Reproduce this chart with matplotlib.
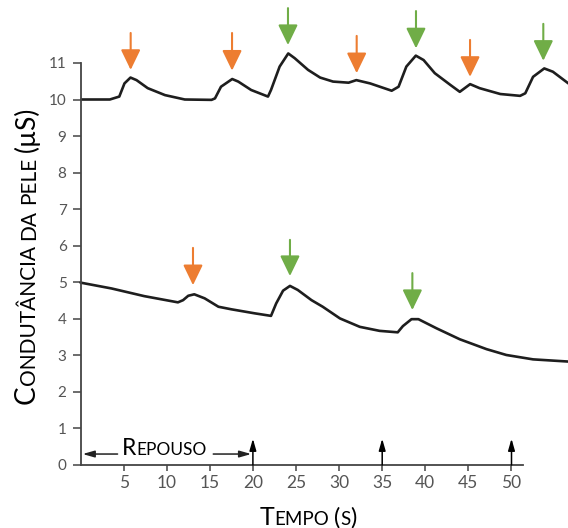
import matplotlib
matplotlib.use("Agg")
import matplotlib.pyplot as plt
from matplotlib.transforms import IdentityTransform

# ---------------- data ----------------
t_top = [0.1, 3.4, 4.5, 5.1, 5.8, 6.5, 7.8, 9.8, 12.1, 15.2, 15.6, 16.3, 17.6, 18.3,
         19.8, 21.75, 22.1, 23.1, 24.1, 24.85, 26.4, 27.8, 29.3, 31.1, 32.0, 33.6,
         36.1, 36.9, 37.8, 38.9, 39.8, 41.1, 42.9, 44.0, 45.2, 46.3, 48.7, 51.0,
         51.6, 52.5, 53.8, 54.8, 56.6]
v_top = [10.0, 10.0, 10.08, 10.44, 10.6, 10.53, 10.31, 10.12, 10.0, 9.99, 10.03, 10.35,
         10.56, 10.49, 10.26, 10.08, 10.26, 10.9, 11.26, 11.13, 10.81, 10.6, 10.49,
         10.46, 10.53, 10.44, 10.24, 10.35, 10.9, 11.2, 11.08, 10.72, 10.4, 10.21,
         10.42, 10.31, 10.15, 10.1, 10.17, 10.62, 10.85, 10.76, 10.44]

t_bot = [0.0, 3.6, 7.4, 11.3, 11.9, 12.5, 13.2, 14.4, 16.0, 17.5, 20.2, 22.1, 22.7,
         23.5, 24.3, 25.2, 26.8, 28.1, 30.1, 32.4, 34.7, 36.8, 37.4, 38.4, 39.2,
         41.3, 44.0, 47.1, 49.4, 52.5, 56.6]
v_bot = [4.99, 4.83, 4.62, 4.45, 4.51, 4.63, 4.67, 4.56, 4.33, 4.26, 4.15, 4.08, 4.42,
         4.77, 4.9, 4.79, 4.51, 4.33, 4.01, 3.78, 3.67, 3.63, 3.8, 3.99, 3.99, 3.74,
         3.44, 3.17, 3.01, 2.89, 2.83]

# stimulus arrows: (x, tail y, tip y)
orange_x = [5.82, 17.58, 32.04, 45.19, 13.05]
orange_tail = [11.82, 11.82, 11.74, 11.63, 5.94]
orange_tip = [10.81, 10.79, 10.72, 10.62, 4.92]
green_x = [24.07, 38.92, 53.69, 24.3, 38.5]
green_tail = [12.50, 12.42, 12.07, 6.16, 5.25]
green_tip = [11.49, 11.40, 11.06, 5.17, 4.24]

event_x = [20, 35, 50]
x_ticks = [5, 10, 15, 20, 25, 30, 35, 40, 45, 50]
y_ticks = list(range(0, 12))

ORANGE = "#ED7D31"
GREEN = "#70AD47"
FAM = ["Lato", "DejaVu Sans"]

# ---------------- figure ----------------
W, H, DPI = 568, 528, 100
fig = plt.figure(figsize=(W / DPI, H / DPI), dpi=DPI)
px_x0, px_y0 = 80.5, 465.0
sx, sy = 8.62, 36.55
ax = fig.add_axes([px_x0 / W, (H - px_y0) / H, (W - px_x0) / W, px_y0 / H])
ax.set_xlim(0, (W - px_x0) / sx)
ax.set_ylim(0, px_y0 / sy)
ax.patch.set_visible(False)

ax.plot(t_top, v_top, color="#1e1e1e", lw=1.9, solid_joinstyle="round",
        solid_capstyle="round", clip_on=False)
ax.plot(t_bot, v_bot, color="#1e1e1e", lw=1.9, solid_joinstyle="round",
        solid_capstyle="round", clip_on=False)

def big_arrow(x, tail, tip, color):
    ax.annotate("", xy=(x, tip), xytext=(x, tail),
                arrowprops=dict(arrowstyle="-|>,head_length=0.62,head_width=0.3",
                                mutation_scale=20, lw=1.5, color=color,
                                shrinkA=0, shrinkB=0), annotation_clip=False)

for x, a, b in zip(orange_x, orange_tail, orange_tip):
    big_arrow(x, a, b, ORANGE)
for x, a, b in zip(green_x, green_tail, green_tip):
    big_arrow(x, a, b, GREEN)

small_style = "-|>,head_length=0.7,head_width=0.2"
for x in event_x:
    ax.annotate("", xy=(x, 0.72), xytext=(x, 0.0),
                arrowprops=dict(arrowstyle=small_style, mutation_scale=10, lw=1.1,
                                color="black", shrinkA=0, shrinkB=0))
# Repouso arrows
ax.annotate("", xy=(0.25, 0.30), xytext=(4.3, 0.30),
            arrowprops=dict(arrowstyle=small_style, mutation_scale=10, lw=1.1,
                            color="#222", shrinkA=0, shrinkB=0))
ax.annotate("", xy=(19.8, 0.30), xytext=(15.4, 0.30),
            arrowprops=dict(arrowstyle=small_style, mutation_scale=10, lw=1.1,
                            color="#222", shrinkA=0, shrinkB=0))

# spines / ticks
for s in ["top", "right"]:
    ax.spines[s].set_visible(False)
ax.spines["left"].set_bounds(0, 11)
ax.spines["bottom"].set_bounds(0, 51.3)
for s in ["left", "bottom"]:
    ax.spines[s].set_color("#444")
    ax.spines[s].set_linewidth(1.3)
ax.set_xticks(x_ticks)
ax.set_yticks(y_ticks)
ax.tick_params(axis="x", length=4, width=1.1, color="#444", pad=3,
               labelsize=12.5, labelcolor="#555")
ax.tick_params(axis="y", length=6, width=1.1, color="#444", pad=4,
               labelsize=11, labelcolor="#555")
for lab in ax.get_xticklabels() + ax.get_yticklabels():
    lab.set_family(FAM)

# ---------------- small-caps text helper ----------------
renderer = fig.canvas.get_renderer()

def space_width(size):
    a = fig.text(0, 0, "x x", fontsize=size, family=FAM, transform=IdentityTransform())
    b = fig.text(0, 0, "xx", fontsize=size, family=FAM, transform=IdentityTransform())
    w = a.get_window_extent(renderer).width - b.get_window_extent(renderer).width
    a.remove(); b.remove()
    return w

def smallcaps(parts, x, y, rotation=0, color="black"):
    items = []
    for s, size in parts:
        if s.strip() == "":
            items.append((None, space_width(size) * len(s)))
            continue
        t = fig.text(0, 0, s, fontsize=size, family=FAM, rotation=rotation,
                     rotation_mode="anchor", ha="left", va="baseline",
                     color=color, transform=IdentityTransform())
        bb = t.get_window_extent(renderer)
        items.append((t, bb.height if rotation == 90 else bb.width))
    total = sum(w for _, w in items)
    pos = -total / 2
    for t, w in items:
        if t is not None:
            if rotation == 90:
                t.set_position((x, y + pos))
            else:
                t.set_position((x + pos, y))
        pos += w

# y label
smallcaps([("C", 20), ("ONDUTÂNCIA", 15), (" ", 15), ("DA", 15), (" ", 15),
           ("PELE", 15), (" ", 15), ("(µS)", 19)],
          35, H - 255, rotation=90)
# x label
smallcaps([("T", 18), ("EMPO", 13.5), (" ", 13.5), ("(", 17), ("S", 13.5), (")", 17)],
          308, H - 525)
# Repouso
rx, ry = ax.transData.transform((9.77, 0.27))
smallcaps([("R", 16.5), ("EPOUSO", 12.5)], rx, ry)

fig.savefig("out.png", dpi=DPI)
